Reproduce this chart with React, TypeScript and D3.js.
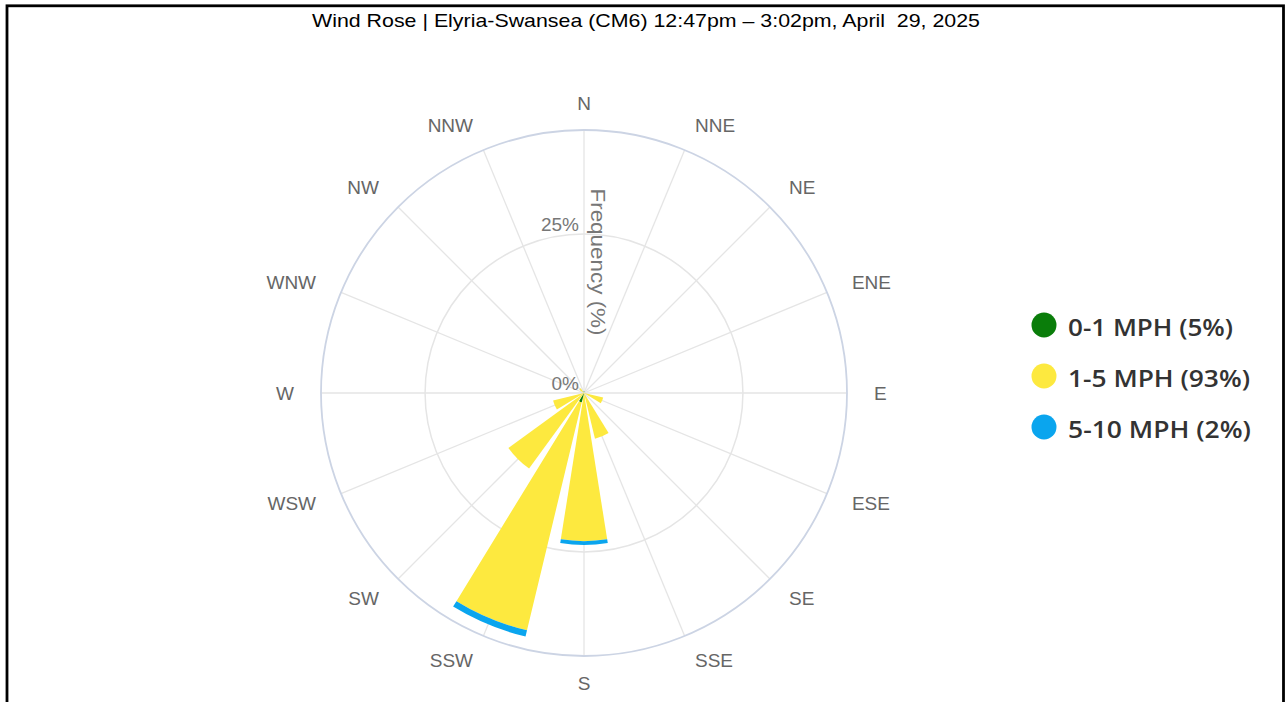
import React from "react";
import * as d3 from "d3";

const directions = ["N","NNE","NE","ENE","E","ESE","SE","SSE","S","SSW","SW","WSW","W","WNW","NW","NNW"];
const calm01 = [0.3,0,0,0,0,0,0,0,0,1.5,0,0,0,0,0,0];
const mid15 = [0,0,0,0,0,3.1,0,7.4,23.3,36.9,14.7,5.0,0,0,0.9,0];
const high510 = [0,0,0,0,0,0,0,0,0.6,1.0,0,0,0,0,0,0];
const seriesNames = ["0-1 MPH (5%)","1-5 MPH (93%)","5-10 MPH (2%)"];
const seriesColors = ["#0a7d0a","#fde93f","#0aa5ee"];
const radialTicks = [0, 25];
const titleText = "Wind Rose | Elyria-Swansea (CM6) 12:47pm \u2013 3:02pm, April\u00a0 29, 2025";

export default function App() {
  const W = 1286, H = 702;
  const cx = 584, cy = 393, R = 263;
  const series = [calm01, mid15, high510];
  const totals = directions.map((_, i) => series.reduce((s, a) => s + a[i], 0));
  const maxVal = (d3.max(totals) as number) * 1.05;
  const r = d3.scaleLinear().domain([0, maxVal]).range([0, R]);
  const step = (2 * Math.PI) / directions.length;
  const barW = step * 0.8;
  const arc = d3.arc<any>();

  const segments: any[] = [];
  directions.forEach((d, i) => {
    let base = 0;
    series.forEach((s, k) => {
      const v = s[i];
      if (v > 0) {
        const a = i * step;
        segments.push({
          key: d + k,
          path: arc({ innerRadius: r(base), outerRadius: r(base + v), startAngle: a - barW / 2, endAngle: a + barW / 2 }),
          color: seriesColors[k],
        });
      }
      base += v;
    });
  });

  const labR = R + 27;
  const legendLens = [165, 182, 183];
  return (
    <svg width={W} height={H} style={{ position: "absolute", left: 0, top: 0, background: "#fff" }}>
      <rect x={7} y={5.8} width={1276.5} height={760} fill="none" stroke="#000" strokeWidth={2.8} />
      <text x={646} y={27} textAnchor="middle" fontFamily="Liberation Sans, Arial, sans-serif" fontSize={19} textLength={668} lengthAdjust="spacingAndGlyphs" fill="#000">{titleText}</text>
      <g>
        {radialTicks.filter(t => t > 0).map(t => (
          <circle key={t} cx={cx} cy={cy} r={r(t)} fill="none" stroke="#e5e5e5" strokeWidth={1.5} />
        ))}
        {directions.map((d, i) => {
          const a = i * step;
          return <line key={d} x1={cx} y1={cy} x2={cx + R * Math.sin(a)} y2={cy - R * Math.cos(a)} stroke="#e5e5e5" strokeWidth={1.3} />;
        })}
        <circle cx={cx} cy={cy} r={R} fill="none" stroke="#ccd4e4" strokeWidth={1.8} />
      </g>
      <g transform={`translate(${cx},${cy})`}>
        {segments.map(s => <path key={s.key} d={s.path} fill={s.color} />)}
      </g>
      {directions.map((d, i) => {
        const a = i * step;
        const sx = Math.sin(a);
        const x = cx + labR * sx, y = cy - labR * Math.cos(a);
        const anchor = Math.abs(sx) < 0.1 ? "middle" : sx > 0 ? "start" : "end";
        return <text key={d} x={x} y={y} textAnchor={anchor} dominantBaseline="central" fontFamily="Liberation Sans, Arial, sans-serif" fontSize={19} fill="#666">{d}</text>;
      })}
      {radialTicks.map(t => (
        <text key={t} x={cx - 5} y={cy - r(t) - 10} textAnchor="end" dominantBaseline="central" fontFamily="Liberation Sans, Arial, sans-serif" fontSize={19} fill="#777">{t}%</text>
      ))}
      <text transform={`translate(598,262) rotate(90)`} textAnchor="middle" dominantBaseline="central" fontFamily="Liberation Sans, Arial, sans-serif" fontSize={21} textLength={147} lengthAdjust="spacingAndGlyphs" fill="#777">Frequency (%)</text>
      {seriesNames.map((n, k) => (
        <g key={n} transform={`translate(1044,${325 + k * 51})`}>
          <circle r={12.5} fill={seriesColors[k]} />
          <text x={24} y={1} dominantBaseline="central" fontFamily="Open Sans, sans-serif" fontWeight={600} fontSize={24} textLength={legendLens[k]} lengthAdjust="spacingAndGlyphs" fill="#333">{n}</text>
        </g>
      ))}
    </svg>
  );
}
